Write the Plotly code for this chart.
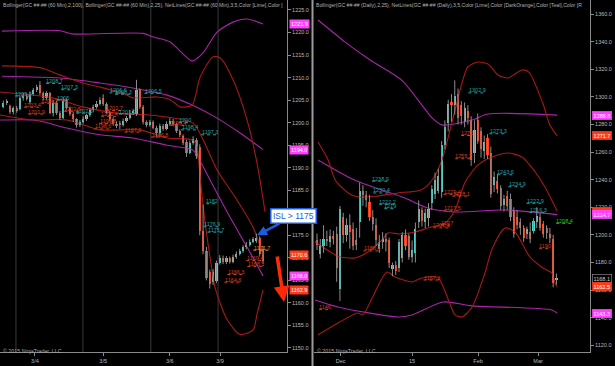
import plotly.graph_objects as go

FIG_W, FIG_H = 615, 366
FONT = "Liberation Sans, Arial, sans-serif"

# ---------------- LEFT PANEL : GC 60 Min ----------------
L_open = [1203.5, 1204.4, 1203.6, 1202.3, 1203.2, 1203.0, 1205.4, 1206.0, 1204.5, 1206.4,
          1207.2, 1208.3, 1206.5, 1205.4, 1206.5, 1202.2, 1204.4, 1202.1, 1201.0, 1205.1,
          1203.2, 1201.9, 1200.7, 1199.4, 1200.2, 1200.9, 1201.6, 1202.7, 1203.5, 1204.2,
          1205.4, 1204.1, 1202.2, 1200.7, 1199.8, 1199.9, 1199.4, 1200.4, 1201.0, 1202.2,
          1201.9, 1207.2, 1203.5, 1200.1, 1199.5, 1200.1, 1198.9, 1197.6, 1199.3, 1198.7,
          1199.8, 1200.4, 1199.6, 1198.1, 1197.0, 1195.8, 1193.3, 1195.5, 1196.2, 1194.6,
          1176.0, 1171.6, 1166.8, 1164.6, 1164.8, 1168.9, 1170.0, 1169.0, 1169.9, 1169.1,
          1170.2, 1170.9, 1171.5, 1172.3, 1172.9, 1173.6, 1173.7, 1174.3, 1172.0]
L_high = [1204.9, 1205.2, 1204.0, 1203.6, 1203.7, 1205.9, 1206.6, 1206.5, 1206.9, 1207.7,
          1208.4, 1209.2, 1206.9, 1207.0, 1206.8, 1205.0, 1204.8, 1202.6, 1205.6, 1205.4,
          1203.6, 1202.4, 1201.0, 1200.6, 1201.4, 1202.0, 1203.2, 1204.0, 1204.8, 1205.6,
          1206.3, 1204.5, 1202.6, 1201.2, 1200.3, 1200.4, 1200.9, 1201.5, 1202.8, 1203.1,
          1209.5, 1207.6, 1203.9, 1200.5, 1200.6, 1200.5, 1199.3, 1199.8, 1199.7, 1200.3,
          1201.0, 1200.8, 1200.0, 1198.5, 1197.4, 1196.2, 1196.0, 1197.0, 1196.6, 1195.2,
          1181.8, 1172.4, 1167.4, 1167.5, 1169.4, 1170.6, 1170.5, 1170.4, 1170.3, 1170.7,
          1171.4, 1172.0, 1172.8, 1173.5, 1174.1, 1174.6, 1175.4, 1174.8, 1172.6]
L_low = [1203.2, 1203.9, 1201.9, 1201.8, 1202.2, 1202.7, 1204.9, 1204.9, 1204.2, 1206.0,
         1206.8, 1206.1, 1204.9, 1205.0, 1201.9, 1201.4, 1201.7, 1200.6, 1200.8, 1202.9,
         1201.5, 1200.2, 1198.9, 1199.0, 1199.8, 1200.4, 1201.3, 1202.3, 1203.1, 1203.8,
         1203.7, 1201.9, 1200.3, 1199.3, 1198.8, 1198.6, 1199.1, 1200.0, 1200.7, 1201.8,
         1201.5, 1203.0, 1199.6, 1199.0, 1199.1, 1198.5, 1196.7, 1197.2, 1198.2, 1198.3,
         1199.4, 1199.2, 1197.7, 1196.8, 1195.0, 1192.4, 1193.0, 1195.1, 1191.9, 1175.0,
         1170.8, 1165.0, 1163.2, 1164.0, 1164.4, 1168.5, 1168.6, 1168.6, 1168.7, 1168.8,
         1169.8, 1170.5, 1171.1, 1171.9, 1172.5, 1173.2, 1173.3, 1170.3, 1168.7]
L_close = [1204.4, 1204.7, 1202.3, 1203.2, 1202.8, 1205.4, 1206.0, 1205.3, 1206.4, 1207.2,
           1207.8, 1206.5, 1205.4, 1206.5, 1202.2, 1204.4, 1202.1, 1201.0, 1205.1, 1203.2,
           1201.9, 1200.7, 1199.4, 1200.2, 1200.9, 1201.6, 1202.7, 1203.5, 1204.2, 1205.0,
           1204.1, 1202.2, 1200.7, 1199.8, 1199.3, 1199.4, 1200.4, 1201.0, 1202.2, 1202.6,
           1207.2, 1203.5, 1200.1, 1199.5, 1200.1, 1198.9, 1197.6, 1199.3, 1198.7, 1199.8,
           1200.4, 1199.6, 1198.1, 1197.3, 1195.5, 1193.3, 1195.5, 1196.4, 1192.6, 1176.0,
           1171.6, 1165.6, 1164.3, 1166.9, 1168.9, 1170.0, 1169.0, 1169.9, 1169.1, 1170.2,
           1170.9, 1171.5, 1172.3, 1172.9, 1173.6, 1174.1, 1174.5, 1170.8, 1169.3]

L_day_breaks = [3.8, 23.9, 44.3, 64.5]
L_tick_pos = [9.5, 30.0, 50.0, 65.1]
L_tick_text = ["3/4", "3/5", "3/6", "3/9"]
L_yticks = list(range(1150, 1230, 5))

# Bollinger(2,100) - magenta, Bollinger(2,25) - dark red : (bar index, price)
L_bb100_up_x = [-0.4, 17, 20.6, 42, 45, 50.1, 56.7, 60, 64.2, 69, 73.2, 78]
L_bb100_up_y = [1220.3, 1220.4, 1219.7, 1219.8, 1219.0, 1217.9, 1213.7, 1215.5, 1220.1, 1222.3, 1223.0, 1221.9]
L_bb100_mid_x = [-0.4, 17, 29, 38.9, 49.2, 56.7, 64.2, 71.1, 78]
L_bb100_mid_y = [1210.3, 1209.9, 1208.8, 1207.7, 1206.1, 1203.9, 1201.0, 1197.7, 1194.0]
L_bb100_lo_x = [-1, 8.9, 11.9, 19.1, 29, 38.9, 49.2, 55.2, 57, 59.1, 63, 68.1, 73.2, 78]
L_bb100_lo_y = [1200.6, 1200.6, 1200.2, 1198.8, 1197.3, 1196.6, 1195.0, 1194.3, 1193.9, 1191.5, 1186.0, 1179.0, 1172.4, 1166.0]
L_bb25_up_x = [-0.4, 11, 17, 23.9, 29, 35.9, 38.9, 46.2, 50.1, 53.1, 56.7, 59.1, 63, 65.1, 69, 73.2, 76.2, 78.6]
L_bb25_up_y = [1212.6, 1212.2, 1210.6, 1208.8, 1207.9, 1206.5, 1205.5, 1205.7, 1205.1, 1203.5, 1203.9, 1210.1, 1214.6, 1214.4, 1209.5, 1200.6, 1191.0, 1180.2]
L_bb25_mid_x = [-1, 14.9, 23.9, 35, 44, 57, 60, 64.2, 70.2, 75, 78]
L_bb25_mid_y = [1206.8, 1205.5, 1203.5, 1202.0, 1201.7, 1199.9, 1196.2, 1189.5, 1182.8, 1176.8, 1170.6]
L_bb25_lo_x = [-1, 8.9, 19.1, 29, 41, 49.2, 57, 58.2, 59.1, 60.6, 62.1, 63.6, 67.2, 71.1, 75, 76.2, 78]
L_bb25_lo_y = [1201.7, 1200.6, 1200.6, 1198.4, 1198.4, 1196.6, 1196.1, 1194.6, 1187.9, 1177.8, 1170.1, 1163.4, 1156.3, 1153.0, 1154.0, 1157.5, 1162.9]

# NetLines labels (bar index, price)
L_teal_x = [45, 34.5, 36.2, 15.5, 20, 6.2, 17.9, 24.5, 37.4, 54.5, 56, 62, 62.7, 62.7, 63.9]
L_teal_v = [1206.5, 1206.6, 1206.3, 1208.7, 1207.3, 1205.9, 1205, 1202.1, 1201.9, 1200, 1198.4, 1197.3, 1182, 1176.9, 1175.7]
L_red_x = [14, 8.9, 10.1, 20.9, 33.5, 32, 31.4, 29.9, 47, 52.5, 39, 69.9, 69, 75.6, 75.9]
L_red_v = [1204.3, 1203.4, 1201.9, 1202.5, 1202.7, 1201.4, 1199.8, 1198.6, 1196.8, 1199.4, 1197.9, 1166.3, 1164.6, 1169.4, 1168.1]
L_orange_x = [77.7]
L_orange_v = [1171.7]

ISL_LEVEL = 1175
ISL_BAR = 76.2
TARGET_BAR, TARGET_PRICE = 84.3, 1160.2

# ---------------- RIGHT PANEL : GC Daily ----------------
R_open = [1196, 1186, 1192, 1197, 1195, 1199, 1201, 1161, 1213, 1200,
          1207, 1204, 1196, 1209, 1232, 1229, 1224, 1213, 1207, 1190,
          1195, 1197, 1196, 1175, 1178, 1176, 1183, 1200, 1199, 1184,
          1187, 1209, 1218, 1209, 1212, 1223, 1230, 1232, 1231, 1265,
          1281, 1296, 1294, 1302, 1294, 1282, 1290, 1283, 1259, 1283,
          1275, 1261, 1270, 1259, 1236, 1239, 1234, 1222, 1228, 1226,
          1218, 1213, 1209, 1205, 1201, 1202, 1203, 1209, 1213, 1208,
          1205, 1201, 1197, 1167.6]
R_high = [1201, 1197, 1207, 1203, 1204, 1203, 1206, 1221, 1216, 1212,
          1215, 1209, 1205, 1238, 1236, 1232, 1229, 1218, 1212, 1200,
          1202, 1201, 1198, 1180, 1181, 1197, 1202, 1204, 1201, 1196,
          1209, 1225, 1220, 1219, 1223, 1236, 1245, 1248, 1268, 1283,
          1298, 1302, 1312, 1306, 1297, 1296, 1294, 1286, 1283, 1288,
          1278, 1272, 1273, 1264, 1246, 1244, 1236, 1229, 1232, 1230,
          1220, 1218, 1212, 1207, 1206, 1209, 1212, 1220, 1216, 1210,
          1207, 1205, 1200, 1172]
R_low = [1189, 1183, 1187, 1192, 1191, 1193, 1166, 1152, 1194, 1195,
         1190, 1189, 1189, 1198, 1221, 1220, 1210, 1203, 1192, 1187,
         1190, 1188, 1176, 1170, 1171, 1173, 1180, 1189, 1182, 1180,
         1180, 1205, 1206, 1205, 1206, 1218, 1226, 1230, 1227, 1262,
         1275, 1282, 1287, 1280, 1280, 1278, 1280, 1250, 1252, 1266,
         1256, 1255, 1255, 1227, 1231, 1230, 1218, 1217, 1218, 1210,
         1198, 1204, 1200, 1195, 1197, 1194, 1201, 1205, 1203, 1198,
         1197, 1194, 1162, 1164]
R_close = [1193, 1192, 1197, 1196, 1199, 1197, 1176, 1219, 1200, 1207,
           1202, 1192, 1193, 1232, 1229, 1225, 1213, 1208, 1196, 1195,
           1198, 1195, 1180, 1178, 1174, 1195, 1200, 1192, 1184, 1189,
           1204, 1219, 1210, 1216, 1219, 1233, 1240, 1243, 1265, 1278,
           1295, 1294, 1301, 1285, 1286, 1292, 1285, 1254, 1276, 1268,
           1262, 1267, 1258, 1230, 1242, 1233, 1221, 1226, 1221, 1213,
           1201, 1207, 1205, 1198, 1204, 1197, 1210, 1214, 1205, 1201,
           1201.5, 1198, 1165, 1168.1]

R_tick_pos = [7.2, 29, 49.1, 67.4]
R_tick_text = ["Dec", "15", "Feb", "Mar"]
R_yticks = list(range(1120, 1361, 20))

R_bb100_up_x = [0.3, 8.5, 16.2, 25.9, 35.1, 38.1, 47.3, 52.1, 73.2]
R_bb100_up_y = [1355.7, 1339.9, 1326.7, 1312.0, 1284.8, 1279.7, 1283.3, 1287.6, 1286.8]
R_bb100_mid_x = [0.3, 11.6, 26.8, 33.8, 42.1, 57.3, 73.2]
R_bb100_mid_y = [1254.3, 1239.6, 1226.7, 1219.5, 1216.6, 1218.0, 1214.7]
R_bb100_lo_x = [-0.6, 6.4, 24.7, 29, 38.4, 47.3, 71.6, 73.2]
R_bb100_lo_y = [1152.8, 1147.8, 1140.5, 1142.0, 1151.4, 1148.6, 1145.6, 1143.3]
R_bb25_up_x = [0.3, 3.4, 5.5, 9.5, 12.5, 17.7, 24.7, 31.7, 35.1, 38.1, 42.1, 46.0, 49.1, 52.1, 55.2, 58.2, 62.5, 64.6, 68.9, 71.0, 73.2]
R_bb25_up_y = [1267.3, 1254.3, 1240.0, 1230.4, 1227.5, 1228.0, 1230.4, 1232.6, 1239.8, 1254.3, 1290.5, 1321.7, 1325.3, 1323.8, 1315.9, 1313.7, 1319.5, 1318.0, 1295.0, 1279.6, 1271.7]
R_bb25_mid_x = [-0.6, 6.4, 11.6, 15.5, 19.8, 21.6, 25.3, 29.9, 33.8, 39.0, 42.1, 45.1, 49.1, 53.4, 58.2, 62.5, 66.5, 69.5, 73.2]
R_bb25_mid_y = [1195.0, 1184.6, 1183.3, 1187.6, 1196.3, 1201.4, 1200.7, 1202.1, 1205.0, 1208.6, 1218.0, 1238.0, 1250.7, 1256.4, 1259.3, 1256.4, 1245.6, 1234.7, 1217.3]
R_bb25_lo_x = [0.3, 6.4, 12.5, 14.0, 16.8, 21.3, 23.8, 29.0, 32.0, 36.9, 42.1, 44.2, 47.3, 51.2, 53.4, 57.3, 60.4, 64.9, 68.9, 71.6, 72.6, 73.2]
R_bb25_lo_y = [1127.6, 1136.2, 1143.4, 1142.0, 1154.3, 1173.1, 1169.5, 1165.9, 1168.8, 1168.8, 1142.0, 1140.5, 1147.8, 1172.4, 1190.0, 1205.0, 1202.1, 1184.0, 1176.0, 1172.4, 1165.1, 1162.5]

R_teal_x = [48.8, 55.2, 57.6, 61, 66.5, 67.4, 19.5, 19.8, 21.6, 22.3]
R_teal_v = [1302.9, 1273.3, 1243.6, 1234.9, 1222.9, 1216.3, 1238.9, 1230.4, 1222.2, 1219]
R_red_x = [45.7, 44.8, 41.2, 43.9, 41.2, 39.6, 38.1, 16.8, 35.1, 2.4, 69.5]
R_red_v = [1272, 1255.2, 1229.4, 1228.1, 1217.5, 1207, 1205.1, 1188.4, 1167.3, 1146, 1190]
R_green_x = [75.6]
R_green_v = [1208.4]

LEFT_TITLE = ("Bollinger(GC ##-## (60 Min),2,100), Bollinger(GC ##-## (60 Min),2,25), "
              "NetLines(GC ##-## (60 Min),3,5,Color [Lime],Color [")
RIGHT_TITLE = ("Bollinger(GC ##-## (Daily),2,25), NetLines(GC ##-## (Daily),3,5,Color [Lime],"
               "Color [DarkOrange],Color [Teal],Color [R")
COPYRIGHT = "© 2015 NinjaTrader, LLC"

# ---------------- styling ----------------
UP = "#45d8cc"
DN = "#ff3c17"
WICK = "#8c8c8c"
MAG = "#a824a8"
DRED = "#a81818"
TEAL_TXT = "#1fa3a3"
RED_TXT = "#dc3a1e"
AXC = "#8a8a8a"
TXT = "#b8b8b8"


def fmt(v):
    return str(int(v)) if float(v).is_integer() else f"{v:.1f}"


fig = go.Figure()


def add_candles(o, h, l, c, xa, ya, min_h):
    n = len(o)
    xs = list(range(n))
    wx, wy = [], []
    for i in xs:
        wx += [i, i, None]
        wy += [l[i], h[i], None]
    fig.add_trace(go.Scatter(x=wx, y=wy, mode="lines", line=dict(color=WICK, width=1),
                             xaxis=xa, yaxis=ya, hoverinfo="skip"))
    base = [min(a, b) for a, b in zip(o, c)]
    hgt = [max(abs(b - a), min_h) for a, b in zip(o, c)]
    cols = [UP if b >= a else DN for a, b in zip(o, c)]
    fig.add_trace(go.Bar(x=xs, y=hgt, base=base, width=0.66, marker=dict(color=cols, line=dict(width=0)),
                         xaxis=xa, yaxis=ya, hoverinfo="skip"))


def add_line(xs, ys, color, xa, ya, w=1.1):
    fig.add_trace(go.Scatter(x=xs, y=ys, mode="lines", line=dict(color=color, width=w, shape="spline", smoothing=0.7),
                             xaxis=xa, yaxis=ya, hoverinfo="skip"))


def add_labels(xs, vals, color, xa, ya, px_per_unit):
    sx, sy = [], []
    for x, v in zip(xs, vals):
        t = fmt(v)
        w = (len(t) * 2.9) / px_per_unit
        sx += [x - w / 2, x + w / 2, None]
        sy += [v, v, None]
        fig.add_annotation(x=x, y=v, xref=xa, yref=ya, text=t, showarrow=False,
                           font=dict(size=5.5, color=color, family=FONT),
                           xanchor="center", yanchor="bottom", yshift=-1.5, borderpad=0)
    fig.add_trace(go.Scatter(x=sx, y=sy, mode="lines", line=dict(color=color, width=1, dash="dot"),
                             xaxis=xa, yaxis=ya, hoverinfo="skip"))


# left panel
for xb in L_day_breaks:
    fig.add_shape(type="line", xref="x", yref="y domain", x0=xb, x1=xb, y0=0, y1=1,
                  line=dict(color="#3a3a3a", width=1), layer="below")
add_line(L_bb100_up_x, L_bb100_up_y, MAG, "x", "y")
add_line(L_bb100_mid_x, L_bb100_mid_y, MAG, "x", "y")
add_line(L_bb100_lo_x, L_bb100_lo_y, MAG, "x", "y")
add_line(L_bb25_up_x, L_bb25_up_y, DRED, "x", "y")
add_line(L_bb25_mid_x, L_bb25_mid_y, DRED, "x", "y")
add_line(L_bb25_lo_x, L_bb25_lo_y, DRED, "x", "y")
add_candles(L_open, L_high, L_low, L_close, "x", "y", 0.22)
add_labels(L_teal_x, L_teal_v, TEAL_TXT, "x", "y", 3.33)
add_labels(L_red_x, L_red_v, RED_TXT, "x", "y", 3.33)
add_labels(L_orange_x, L_orange_v, "#e8861a", "x", "y", 3.33)

# right panel
add_line(R_bb100_up_x, R_bb100_up_y, MAG, "x2", "y2")
add_line(R_bb100_mid_x, R_bb100_mid_y, MAG, "x2", "y2")
add_line(R_bb100_lo_x, R_bb100_lo_y, MAG, "x2", "y2")
add_line(R_bb25_up_x, R_bb25_up_y, DRED, "x2", "y2")
add_line(R_bb25_mid_x, R_bb25_mid_y, DRED, "x2", "y2")
add_line(R_bb25_lo_x, R_bb25_lo_y, DRED, "x2", "y2")
add_candles(R_open, R_high, R_low, R_close, "x2", "y2", 0.8)
add_labels(R_teal_x, R_teal_v, TEAL_TXT, "x2", "y2", 3.28)
add_labels(R_red_x, R_red_v, RED_TXT, "x2", "y2", 3.28)
add_labels(R_green_x, R_green_v, "#22c322", "x2", "y2", 3.28)

# price tags on the axes
MAGTAG = "#ff40ff"
REDTAG = "#ff3a18"
left_tags = [(L_bb100_up_y[-1], MAGTAG), (L_bb100_mid_y[-1], MAGTAG), (L_bb25_mid_y[-1], REDTAG),
             (L_bb100_lo_y[-1], MAGTAG), (L_bb25_lo_y[-1], REDTAG)]
right_tags = [(R_bb100_up_y[-1], MAGTAG), (R_bb25_up_y[-1], REDTAG), (R_bb25_mid_y[-1], REDTAG),
              (R_bb100_mid_y[-1], MAGTAG), (R_close[-1], "#000000"), (R_bb25_lo_y[-1], REDTAG),
              (R_bb100_lo_y[-1], MAGTAG)]
for v, col in left_tags:
    fig.add_annotation(x=288.5 / FIG_W, xref="paper", y=v, yref="y", text=f"{v:.1f}", showarrow=False,
                       xanchor="left", yanchor="middle", bgcolor=col, borderpad=1,
                       font=dict(size=5.5, color="white", family=FONT))
for v, col in right_tags:
    fig.add_annotation(x=591.5 / FIG_W, xref="paper", y=v, yref="y2", text=f"{v:.1f}", showarrow=False,
                       xanchor="left", yanchor="middle", bgcolor=col, borderpad=1,
                       bordercolor="#9a9a9a" if col == "#000000" else col, borderwidth=0.6,
                       font=dict(size=5.5, color="#d0d0d0" if col == "#000000" else "white", family=FONT))

# titles and copyright
fig.add_annotation(x=1 / FIG_W, y=1, xref="paper", yref="paper", text=LEFT_TITLE, showarrow=False,
                   xanchor="left", yanchor="top", font=dict(size=5.1, color="#b0b0b0", family=FONT))
fig.add_annotation(x=314 / FIG_W, y=1, xref="paper", yref="paper", text=RIGHT_TITLE, showarrow=False,
                   xanchor="left", yanchor="top", font=dict(size=5.1, color="#b0b0b0", family=FONT))
for xp in (1, 315):
    fig.add_annotation(x=xp / FIG_W, y=(FIG_H - 351) / FIG_H, xref="paper", yref="paper", text=COPYRIGHT,
                       showarrow=False, xanchor="left", yanchor="middle",
                       font=dict(size=5.3, color="#a8a8a8", family=FONT))

# divider between panels
fig.add_shape(type="line", xref="paper", yref="paper", x0=312.5 / FIG_W, x1=312.5 / FIG_W, y0=0, y1=1,
              line=dict(color="#9c9c9c", width=2))

# ISL callout and projected move arrow
fig.add_annotation(x=ISL_BAR, y=ISL_LEVEL, xref="x", yref="y", text=f"ISL > {ISL_LEVEL}",
                   showarrow=True, ax=36, ay=-19, arrowcolor="#1c5ce0", arrowwidth=2.5, arrowhead=2,
                   arrowsize=0.8, bgcolor="white", bordercolor="#1c5ce0", borderwidth=1.5, borderpad=1.5,
                   font=dict(size=8.5, color="#1c5ce0", family=FONT))
fig.add_annotation(x=TARGET_BAR, y=TARGET_PRICE, xref="x", yref="y", text="", showarrow=True,
                   ax=-7, ay=-47, arrowcolor="#ff2a0a", arrowwidth=3.5, arrowhead=2, arrowsize=0.9)

axis_common = dict(showgrid=False, zeroline=False, showline=True, linecolor=AXC, linewidth=1,
                   ticks="outside", ticklen=3, tickcolor=AXC, tickfont=dict(size=5.5, color=TXT, family=FONT),
                   fixedrange=True)
ydom = [14 / FIG_H, 1.0]
fig.update_layout(
    width=FIG_W, height=FIG_H, margin=dict(l=0, r=0, t=0, b=0),
    paper_bgcolor="black", plot_bgcolor="black", showlegend=False, hovermode=False,
    barmode="overlay", bargap=0,
    xaxis=dict(domain=[0, 287 / FIG_W], range=[-0.99, 85.2], anchor="y",
               tickmode="array", tickvals=L_tick_pos, ticktext=L_tick_text, **axis_common),
    yaxis=dict(domain=ydom, range=[1149.11, 1227.21], anchor="x", side="right",
               tickmode="array", tickvals=L_yticks, ticktext=[f"{v:.1f}" for v in L_yticks], **axis_common),
    xaxis2=dict(domain=[314 / FIG_W, 590 / FIG_W], range=[-0.915, 83.23], anchor="y2",
                tickmode="array", tickvals=R_tick_pos, ticktext=R_tick_text, **axis_common),
    yaxis2=dict(domain=ydom, range=[1115.14, 1370.22], anchor="x2", side="right",
                tickmode="array", tickvals=R_yticks, ticktext=[f"{v:.1f}" for v in R_yticks], **axis_common),
)

fig.write_html("out.html", config={"displayModeBar": False},
               post_script="document.body.style.margin='0';document.body.style.overflow='hidden';"
                           "document.body.style.background='black';")
